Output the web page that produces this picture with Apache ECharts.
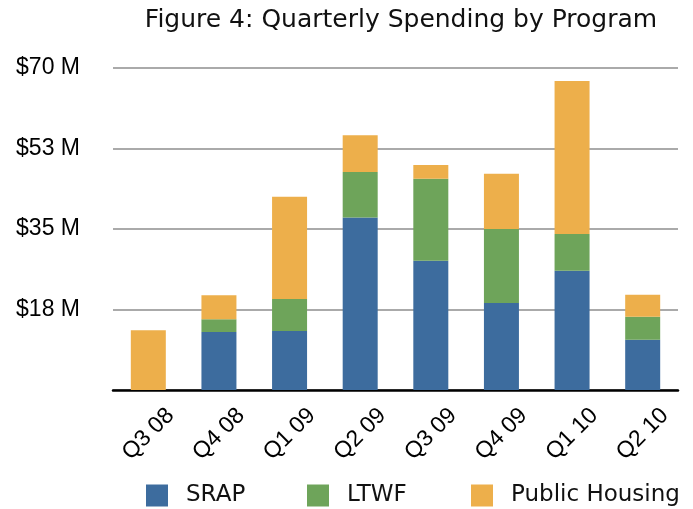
<!DOCTYPE html>
<html>
<head>
<meta charset="utf-8">
<script src="https://cdn.jsdelivr.net/npm/echarts@6/dist/echarts.min.js"></script>
<style>html,body{margin:0;padding:0;background:#fff}#c{width:693px;height:509px}</style>
</head>
<body>
<div id="c"></div>
<script>
const categories = ['Q3 08','Q4 08','Q1 09','Q2 09','Q3 09','Q4 09','Q1 10','Q2 10'];
const srap = [0, 12.6, 12.8, 37.5, 28.1, 18.9, 25.9, 10.9];
const ltwf = [0, 2.8, 7.0, 9.9, 17.8, 16.1, 8.0, 5.0];
const publicHousing = [13.0, 5.2, 22.2, 8.0, 3.0, 12.0, 33.3, 4.8];
const seriesNames = ['SRAP','LTWF','Public Housing'];
const colors = ['#3d6c9e','#6ea45a','#edaf4b'];
const yMax = 70, yInterval = 17.5;

const chart = echarts.init(document.getElementById('c'), null, {renderer:'canvas'});
const legendLefts = [146, 307, 471];
const option = {
  animation: false,
  title: {
    text: 'Figure 4: Quarterly Spending by Program',
    left: 396, textAlign: 'center', top: 3,
    textStyle: {fontFamily: 'DejaVu Sans', fontSize: 25, fontWeight: 'normal', color: '#111'}
  },
  legend: seriesNames.map((n, i) => ({
    data: [n], left: legendLefts[i], top: 484, padding: 0,
    itemWidth: 22, itemHeight: 22, icon: 'rect',
    textStyle: {fontFamily: 'DejaVu Sans', fontSize: 23, color: '#111', padding: [0,0,0,13]}
  })),
  grid: {left: 113, right: 15, top: 68, bottom: 119},
  xAxis: {
    type: 'category', data: categories,
    axisLine: {lineStyle: {color: '#000', width: 2.5}},
    axisTick: {show: false},
    axisLabel: {rotate: 45, align: 'center', verticalAlign: 'middle', margin: 44,
      fontFamily: 'Liberation Sans', fontSize: 23, color: '#000'}
  },
  yAxis: {
    type: 'value', min: 0, max: yMax, interval: yInterval,
    axisLine: {show: false}, axisTick: {show: false},
    splitLine: {lineStyle: {color: '#aaaaaa', width: 2}},
    axisLabel: {margin: 33, fontFamily: 'Liberation Sans', fontSize: 23, color: '#000',
      formatter: v => v === 0 ? '' : '$' + Math.round(v) + ' M'}
  },
  series: [srap, ltwf, publicHousing].map((d, i) => ({
    name: seriesNames[i], type: 'bar', stack: 'total', data: d,
    barWidth: 35, itemStyle: {color: colors[i]}
  }))
};
chart.setOption(option);
</script>
</body>
</html>
